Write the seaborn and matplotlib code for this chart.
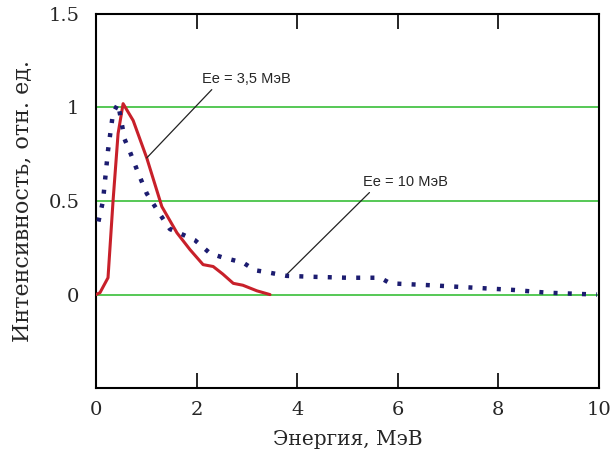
import matplotlib
matplotlib.use("Agg")
import matplotlib.pyplot as plt
import seaborn as sns
import pandas as pd

# Ee = 3.5 MeV spectrum (red solid)
x_35 = [0.0, 0.08, 0.24, 0.34, 0.44, 0.54, 0.74, 1.01, 1.31, 1.61, 1.87, 2.13, 2.33, 2.52, 2.73, 2.92, 3.2, 3.46]
y_35 = [0.0, 0.01, 0.09, 0.50, 0.86, 1.02, 0.93, 0.73, 0.47, 0.33, 0.24, 0.16, 0.15, 0.11, 0.06, 0.05, 0.02, 0.0]

# Ee = 10 MeV spectrum (blue dotted)
x_10 = [0.05, 0.14, 0.24, 0.34, 0.44, 0.57, 0.68, 0.84, 1.01, 1.27, 1.47, 1.73, 1.97, 2.27, 2.5, 2.93, 3.16, 3.39, 3.79,
        4.32, 4.98, 5.65, 5.85, 6.64, 7.3, 8.29, 8.97, 9.96]
y_10 = [0.39, 0.50, 0.77, 0.97, 1.02, 0.83, 0.76, 0.65, 0.54, 0.43, 0.35, 0.32, 0.29, 0.22, 0.20, 0.17, 0.13, 0.12, 0.10,
        0.095, 0.09, 0.09, 0.06, 0.05, 0.04, 0.025, 0.01, 0.0]

x_ticks = [0, 2, 4, 6, 8, 10]
y_ticks = [0, 0.5, 1, 1.5]
y_tick_labels = ["0", "0.5", "1", "1.5"]
grid_levels = [0, 0.5, 1]
label_35 = "Ee = 3,5 МэВ"
label_10 = "Ee = 10 МэВ"
x_label = "Энергия, МэВ"
y_label = "Интенсивность, отн. ед."

sns.set_style("white")
plt.rcParams['font.family'] = ['DejaVu Serif']

fig = plt.figure(figsize=(6.15, 4.61), dpi=100)
ax = fig.add_axes([0.156, 0.158, 0.818, 0.812])

for g in grid_levels:
    ax.axhline(g, color="#55c855", lw=1.4, zorder=1)

df35 = pd.DataFrame({"x": x_35, "y": y_35})
df10 = pd.DataFrame({"x": x_10, "y": y_10})
sns.lineplot(data=df35, x="x", y="y", ax=ax, color="#c8202a", lw=2.2, sort=False, zorder=3)
l10 = sns.lineplot(data=df10, x="x", y="y", ax=ax, color="#1c1c70", lw=3.2, sort=False, zorder=4)
l10.lines[-1].set_dashes([0.9, 2.3])

ax.set_xlim(0, 10)
ax.set_ylim(-0.5, 1.5)
ax.set_xticks(x_ticks)
ax.set_xticklabels([str(t) for t in x_ticks])
ax.set_yticks(y_ticks)
ax.set_yticklabels(y_tick_labels)
ax.tick_params(axis="x", direction="in", length=11, width=1.2, top=True, bottom=True,
               labelsize=14, pad=9, color="black")
ax.tick_params(axis="y", length=0, labelsize=14, pad=12)
for s in ax.spines.values():
    s.set_color("black")
    s.set_linewidth(1.5)

ax.set_xlabel(x_label, fontsize=14.5, labelpad=8)
ax.set_ylabel(y_label, fontsize=16, labelpad=11)

ax.annotate(label_35, xy=(1.01, 0.73), xytext=(2.1, 1.15), fontsize=10.5,
            family="Liberation Sans", ha="left", va="center",
            arrowprops=dict(arrowstyle="-", color="#222222", lw=0.9, shrinkA=0, shrinkB=0,
                            relpos=(0.15, 0.0)))
ax.annotate(label_10, xy=(3.8, 0.11), xytext=(5.3, 0.6), fontsize=10.5,
            family="Liberation Sans", ha="left", va="center",
            arrowprops=dict(arrowstyle="-", color="#222222", lw=0.9, shrinkA=0, shrinkB=0,
                            relpos=(0.12, 0.0)))

fig.savefig("out.png", dpi=100, facecolor="white")
